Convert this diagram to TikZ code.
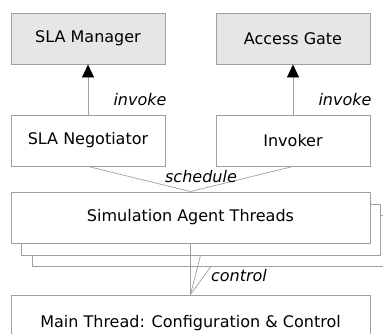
\documentclass[tikz,border=0pt]{standalone}
\usepackage{fontspec}
\setmainfont{DejaVu Sans}
\usetikzlibrary{arrows.meta}
\definecolor{edge}{HTML}{A0A0A0}
\definecolor{boxfill}{HTML}{E6E6E6}
\begin{document}
\begin{tikzpicture}[x=1pt,y=-1pt,
  box/.style={draw=edge,line width=0.9pt,fill=white,minimum width=154pt,minimum height=51pt,inner sep=0pt,font=\fontsize{16}{19}\selectfont},
  graybox/.style={box,fill=boxfill},
  widebox/.style={box,minimum width=359pt},
  lbl/.style={font=\fontsize{16}{19}\selectfont\itshape,inner sep=0pt},
  conn/.style={draw=edge,line width=0.7pt},
  arr/.style={conn,-{Triangle[width=12pt,length=13pt,black]}}]
\useasboundingbox (0,0) rectangle (383,333);
\clip (0,0) rectangle (383,333);
\node[graybox] (mgr) at (88,38.5) {SLA Manager};
\node[graybox] (gate) at (293,38.5) {Access Gate};
\node[box] (neg) at (88,140.5) {SLA Negotiator};
\node[box] (inv) at (293,140.5) {Invoker};
\node[box,minimum width=357pt] (simc) at (210.5,241) {};
\node[box,minimum width=359pt] (simb) at (200.5,229.5) {};
\node[widebox] (sim) at (190.5,217.5) {Simulation Agent Threads};
\node[widebox,minimum height=56pt] (main) at (190.5,323) {Main Thread: Configuration \& Control};
\draw[arr] (neg.north) -- (mgr.south);
\draw[arr] (inv.north) -- (gate.south);
\node[lbl] (inv1) at (140,100) {invoke};
\node[lbl] (inv2) at (345,100) {invoke};
\draw[conn] (neg.south) -- (sim.north);
\draw[conn] (inv.south) -- (sim.north);
\node[lbl] (sch) at (201,177) {schedule};
\draw[conn] (sim.south) -- (main.north);
\draw[conn] (simb.south) -- (main.north);
\draw[conn] (simc.south) -- (main.north);
\node[lbl] (ctl) at (239,276) {control};
\end{tikzpicture}
\end{document}
